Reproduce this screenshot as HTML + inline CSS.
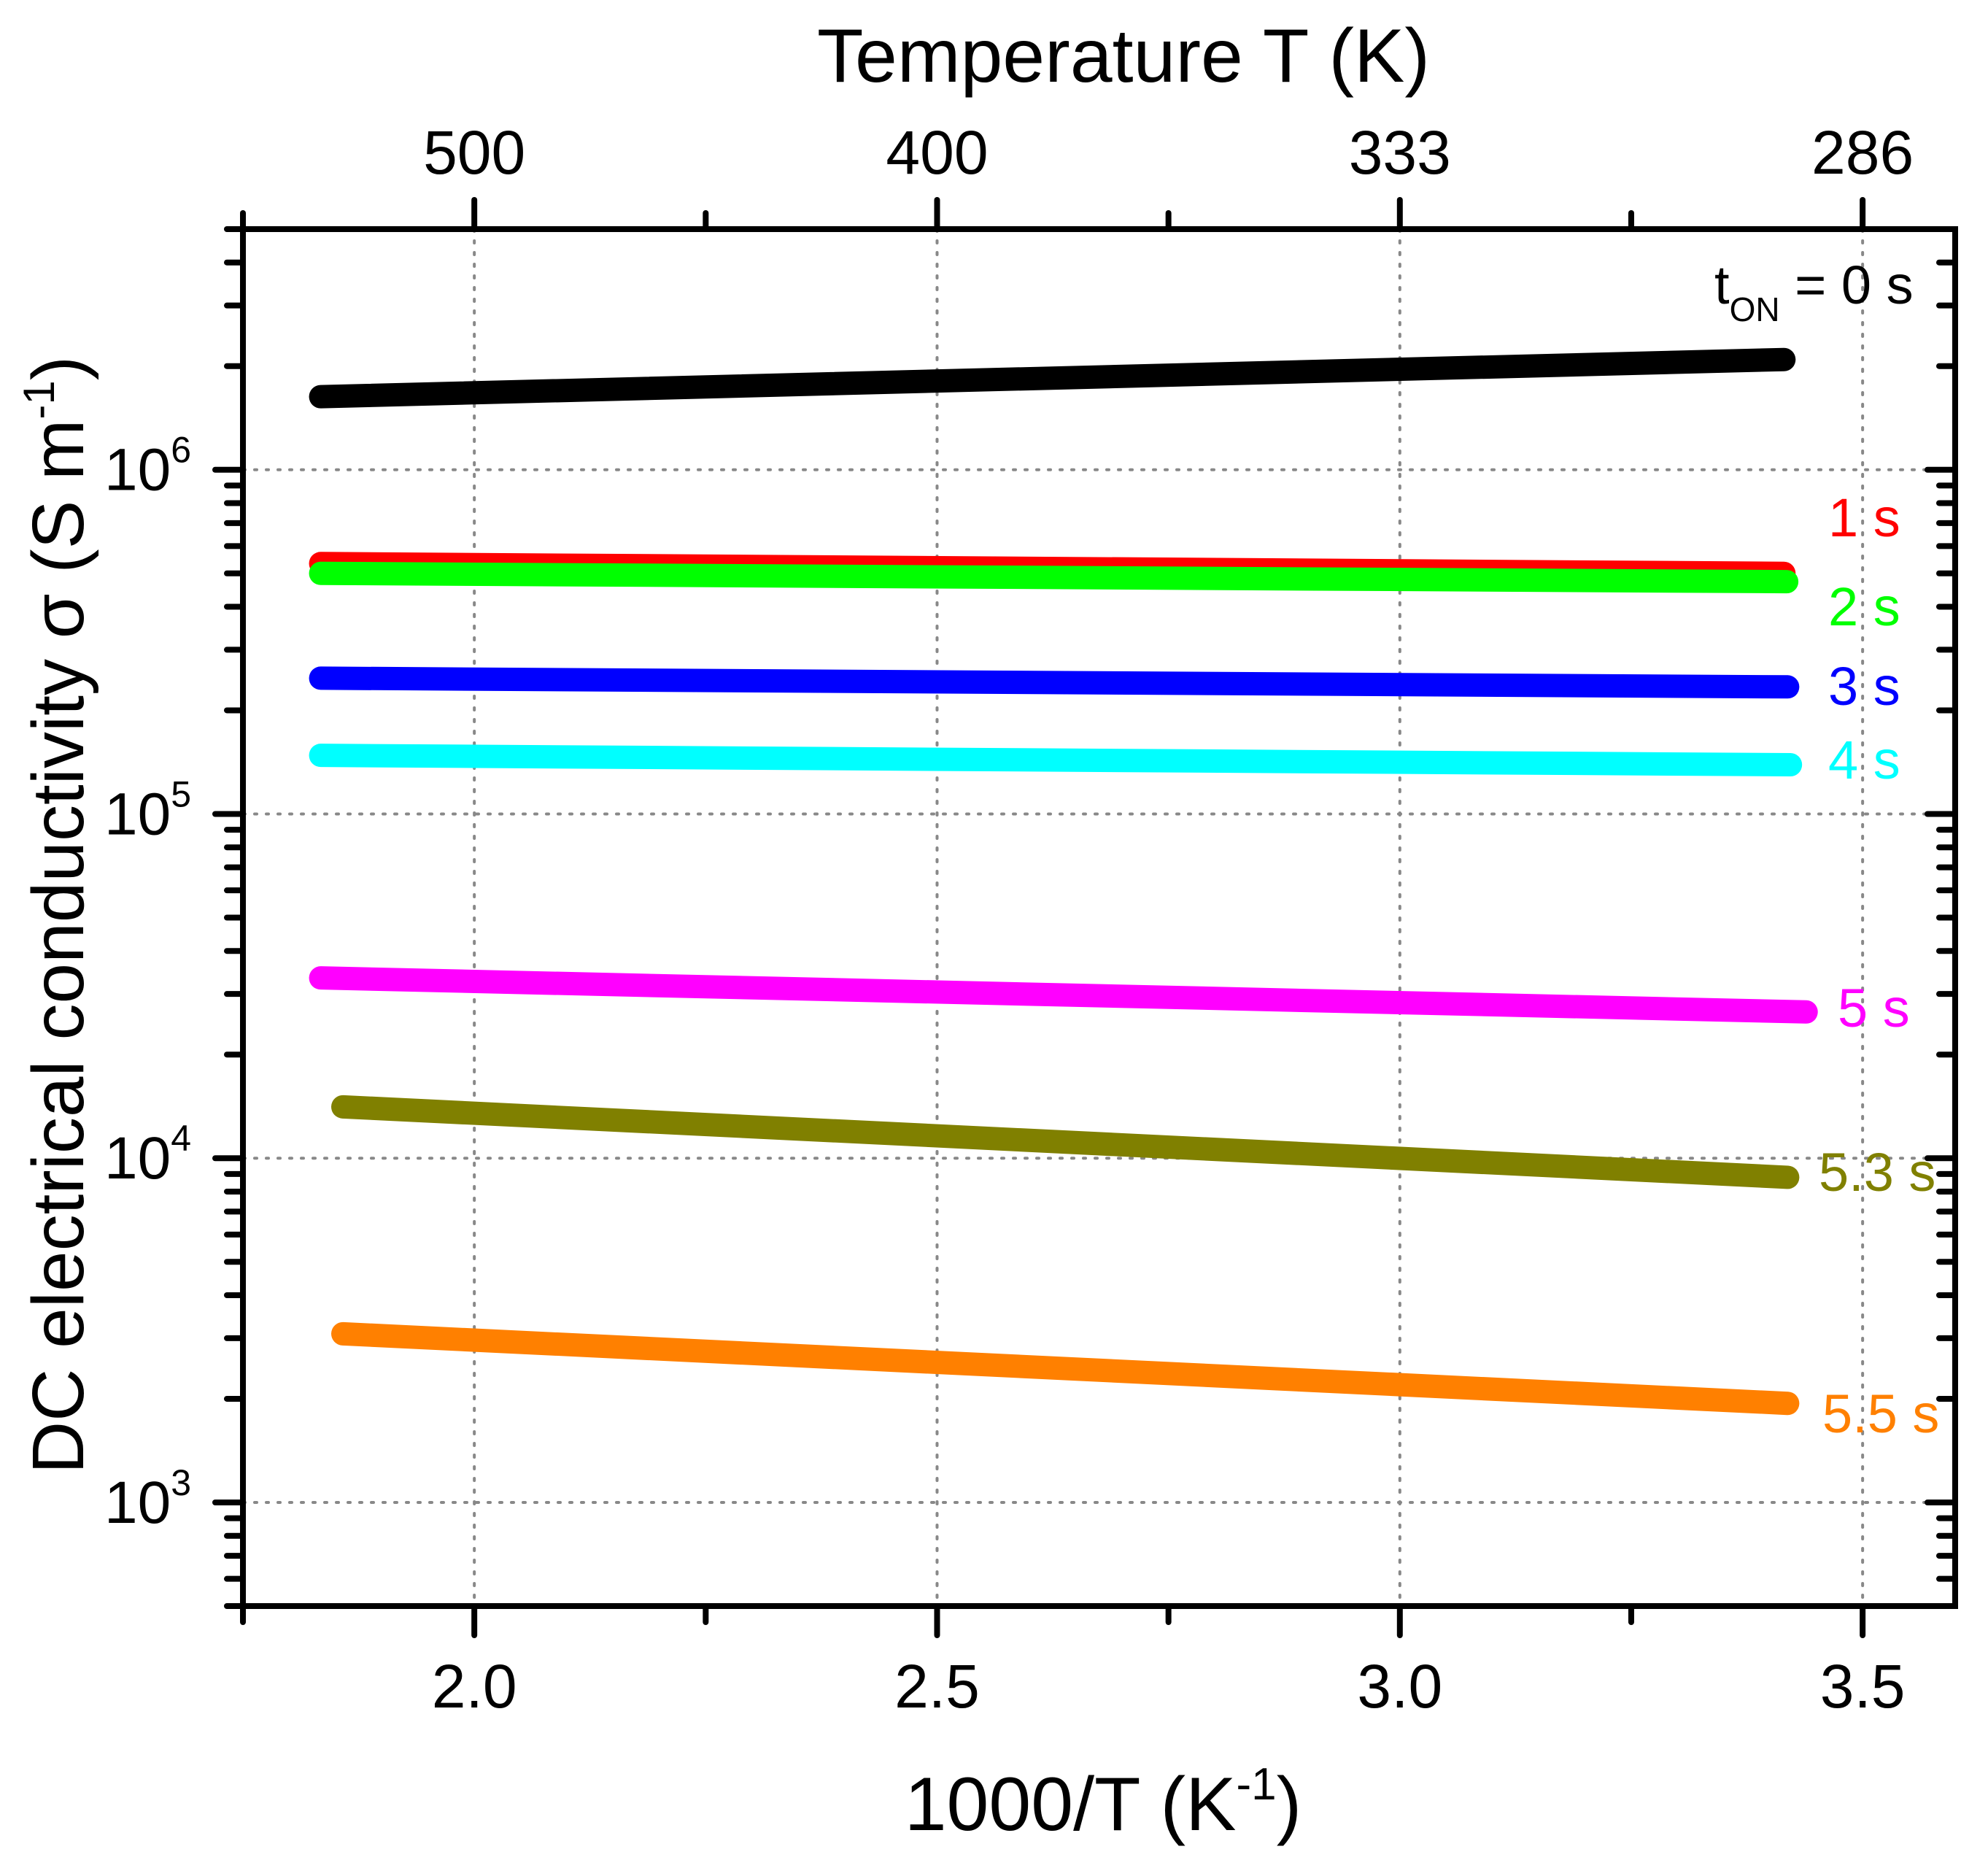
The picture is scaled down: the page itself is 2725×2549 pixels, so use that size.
<!DOCTYPE html>
<html><head><meta charset="utf-8"><style>
html,body{margin:0;padding:0;background:#fff;}
svg{display:block;font-family:"Liberation Sans",Arial,sans-serif;}
</style></head><body>
<svg id="chart" width="2725" height="2549" viewBox="0 0 2725 2549" xmlns="http://www.w3.org/2000/svg">
<rect x="0" y="0" width="2725" height="2549" fill="#fff"/>
<g id="grid"></g>
<g id="series"></g>
<g id="axes"></g>
<g id="labels"></g>
<text x="1540" y="112" font-size="104" text-anchor="middle">Temperature T (K)</text>
<text x="1512" y="2508" font-size="104" text-anchor="middle">1000/T (K<tspan font-size="62" dy="-42">-1</tspan><tspan dy="42">)</tspan></text>
<text transform="translate(114,1254) rotate(-90)" font-size="100" text-anchor="middle">DC electrical conductivity σ (S m<tspan font-size="60" dy="-40">-1</tspan><tspan dy="40">)</tspan></text>
</svg>
<script>
const xTicks = [2.0, 2.5, 3.0, 3.5];
const xTickLabels = ["2.0", "2.5", "3.0", "3.5"];
const xMinorTicks = [2.25, 2.75, 3.25];
const topTickLabels = ["500", "400", "333", "286"];
const yDecades = [3, 4, 5, 6];
const seriesNames = ["0 s", "1 s", "2 s", "3 s", "4 s", "5 s", "5.3 s", "5.5 s"];
const seriesColors = ["#000000", "#ff0000", "#00ff00", "#0000ff", "#00ffff", "#ff00ff", "#808000", "#ff8000"];
const xStart = [1.834, 1.834, 1.834, 1.834, 1.834, 1.834, 1.858, 1.858];
const xEnd = [3.415, 3.415, 3.418, 3.419, 3.422, 3.439, 3.419, 3.419];
const yStart = [1.63e6, 5.34e5, 5.0e5, 2.48e5, 1.48e5, 3.34e4, 1.41e4, 3.09e3];
const yEnd = [2.09e6, 5.0e5, 4.73e5, 2.34e5, 1.39e5, 2.66e4, 8.8e3, 1.94e3];

const L = 333, R = 2680, T = 314, B = 2201;
const xMin = 1.75, xMax = 3.6, yMinLog = Math.log10(500), yMaxLog = Math.log10(5e6);
function sx(v){ return L + (v - xMin) / (xMax - xMin) * (R - L); }
function sy(v){ return B - (Math.log10(v) - yMinLog) / (yMaxLog - yMinLog) * (B - T); }
const NS = "http://www.w3.org/2000/svg";
function mk(tag, attrs, parent){ const e = document.createElementNS(NS, tag); for (const k in attrs) e.setAttribute(k, attrs[k]); parent.appendChild(e); return e; }
const grid = document.getElementById('grid'), axes = document.getElementById('axes'), ser = document.getElementById('series'), labs = document.getElementById('labels');

xTicks.forEach(v => {
  const g = mk('line', {x1: sx(v), x2: sx(v), y1: T, y2: B, stroke: '#888', 'stroke-width': 4, 'stroke-dasharray': '3 13', 'stroke-linecap': 'round'}, grid);
  
  
});
yDecades.forEach(d => {
  const g = mk('line', {x1: L, x2: R, y1: sy(Math.pow(10, d)), y2: sy(Math.pow(10, d)), stroke: '#888', 'stroke-width': 4, 'stroke-dasharray': '3 13', 'stroke-linecap': 'round'}, grid);
  
  
});

seriesNames.forEach((n, i) => {
  const l = mk('line', {x1: sx(xStart[i]), y1: sy(yStart[i]), x2: sx(xEnd[i]), y2: sy(yEnd[i]), stroke: seriesColors[i], 'stroke-width': 32, 'stroke-linecap': 'round'}, ser);
  
  
});

const fr = mk('rect', {x: L, y: T, width: R - L, height: B - T, fill: 'none', stroke: '#000', 'stroke-width': 8}, axes);


const tk = {stroke: '#000', 'stroke-width': 8, 'stroke-linecap': 'round'};
function tick(x1, y1, x2, y2, name){ const t = mk('line', Object.assign({x1, y1, x2, y2}, tk), axes);   }
xTicks.forEach((v, i) => {
  tick(sx(v), B, sx(v), B + 40, 'x-major-tick');
  tick(sx(v), T, sx(v), T - 40, 'top-major-tick');
  const t = mk('text', {x: sx(v), y: 2340, 'font-size': 84, 'text-anchor': 'middle'}, axes);
  t.textContent = xTickLabels[i];
  
  
  const t2 = mk('text', {x: sx(v), y: 238, 'font-size': 84, 'text-anchor': 'middle'}, axes);
  t2.textContent = topTickLabels[i];
  
  
});
xMinorTicks.forEach(v => { tick(sx(v), B, sx(v), B + 22, 'x-minor-tick'); tick(sx(v), T, sx(v), T - 22, 'top-minor-tick'); });
tick(L, B, L, B + 22, 'x-minor-tick');
tick(L, T, L, T - 22, 'top-minor-tick');
for (let d = 2; d <= 6; d++) {
  for (let m = 1; m <= 9; m++) {
    const v = m * Math.pow(10, d);
    if (v < 500 || v > 5e6) continue;
    const y = sy(v);
    const len = m === 1 ? 38 : 22;
    tick(L, y, L - len, y, m === 1 ? 'y-major-tick' : 'y-minor-tick');
    tick(R, y, R - len, y, m === 1 ? 'right-major-tick' : 'right-minor-tick');
  }
}
yDecades.forEach(d => {
  const t = mk('text', {x: 262, y: sy(Math.pow(10, d)) + 28, 'font-size': 82, 'text-anchor': 'end'}, axes);
  t.textContent = '10';
  
  
  const s = mk('tspan', {'font-size': 50, dy: -38}, t);
  s.textContent = String(d);
});

const labelX = [2350, 2506, 2506, 2506, 2506, 2519, 2493, 2498];
const labelY = [416, 735, 857, 966, 1067, 1407, 1632, 1963];
seriesNames.forEach((n, i) => {
  const t = mk('text', {x: labelX[i], y: labelY[i], 'font-size': 74, fill: seriesColors[i]}, labs);
  
  
  if (i === 0) {
    t.textContent = 't';
    const s = mk('tspan', {'font-size': 46, dy: 24}, t); s.textContent = 'ON';
    const s2 = mk('tspan', {dy: -24}, t); s2.textContent = ' = 0 s';
  } else {
    t.textContent = n;
  }
});
</script>
</body></html>
